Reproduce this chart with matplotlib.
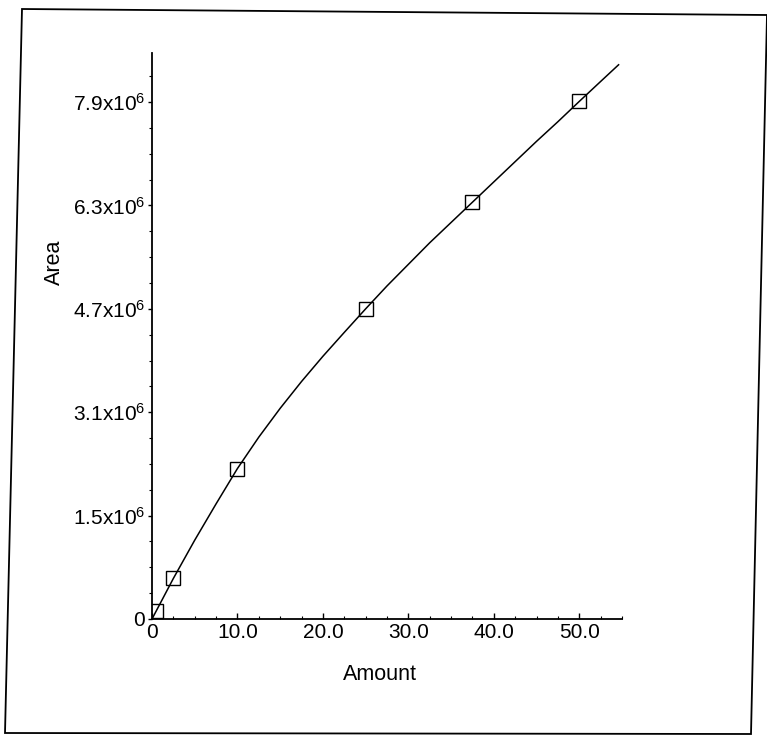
import numpy as np
import matplotlib
matplotlib.use("Agg")
import matplotlib.pyplot as plt
from matplotlib.patches import Polygon
from matplotlib.ticker import AutoMinorLocator

plt.rcParams['font.family'] = ['Liberation Sans', 'DejaVu Sans']
plt.rcParams['mathtext.fontset'] = 'custom'
plt.rcParams['mathtext.rm'] = 'Liberation Sans'
plt.rcParams['mathtext.it'] = 'Liberation Sans'

# calibration standards (amount, area)
amount = [0.5, 2.5, 10.0, 25.0, 37.5, 50.0]
area = [0.12e6, 0.62e6, 2.30e6, 4.74e6, 6.37e6, 7.91e6]

# fitted curve
curve_x = [0, 2.5, 5, 7.5, 10, 12.5, 15, 17.5, 20, 22.5, 25, 27.5, 30, 32.5,
           35, 37.5, 40, 42.5, 45, 47.5, 50, 52.5, 54.6]
curve_y = [0, 0.62e6, 1.205e6, 1.76e6, 2.30e6, 2.78e6, 3.22e6, 3.63e6,
           4.015e6, 4.38e6, 4.74e6, 5.09e6, 5.42e6, 5.75e6, 6.06e6,
           6.37e6, 6.68e6, 6.99e6, 7.30e6, 7.60e6, 7.91e6, 8.215e6, 8.47e6]

x_ticks = [0, 10, 20, 30, 40, 50]
x_labels = ['0', '10.0', '20.0', '30.0', '40.0', '50.0']
y_ticks = [0, 1.58e6, 3.16e6, 4.74e6, 6.32e6, 7.90e6]
y_labels = ['0', r'1.5x10$^{6}$', r'3.1x10$^{6}$', r'4.7x10$^{6}$',
            r'6.3x10$^{6}$', r'7.9x10$^{6}$']

W, H = 767, 740
fig = plt.figure(figsize=(W / 100, H / 100), dpi=100)
ax = fig.add_axes([152 / W, 1 - 619 / H, 470 / W, 566 / H])

ax.plot(curve_x, curve_y, color='black', lw=1.1)
ax.plot(amount, area, linestyle='none', marker='s', markersize=10.5,
        markerfacecolor='none', markeredgecolor='black', markeredgewidth=1.0)

ax.set_xlim(0, 55)
ax.set_ylim(0, 8.65e6)
ax.set_xticks(x_ticks)
ax.set_xticklabels(x_labels)
ax.set_yticks(y_ticks)
ax.set_yticklabels(y_labels)
ax.xaxis.set_minor_locator(AutoMinorLocator(4))
ax.yaxis.set_minor_locator(AutoMinorLocator(4))

ax.spines['top'].set_visible(False)
ax.spines['right'].set_visible(False)
ax.spines['left'].set_linewidth(1.3)
ax.spines['bottom'].set_linewidth(1.3)

ax.tick_params(axis='x', which='major', direction='in', length=4, width=1, labelsize=15, pad=3)
ax.tick_params(axis='x', which='minor', direction='in', length=2, width=0.8)
ax.tick_params(axis='y', which='major', direction='out', length=3, width=1, labelsize=15, pad=2)
ax.tick_params(axis='y', which='minor', direction='out', length=2, width=0.8)

ax.set_xlabel('Amount', fontsize=15.5)
ax.set_ylabel('Area', fontsize=15.5)
ax.xaxis.set_label_coords(0.485, -0.08)
ax.yaxis.set_label_coords(-0.185, 0.63)

# page frame of the scan
frame = [(22, 9), (767, 15), (751, 734), (5, 733)]
fig.add_artist(Polygon([(px / W, 1 - py / H) for px, py in frame], closed=True,
                       fill=False, edgecolor='black', lw=1.3,
                       transform=fig.transFigure))

fig.savefig('out.png', dpi=100)
